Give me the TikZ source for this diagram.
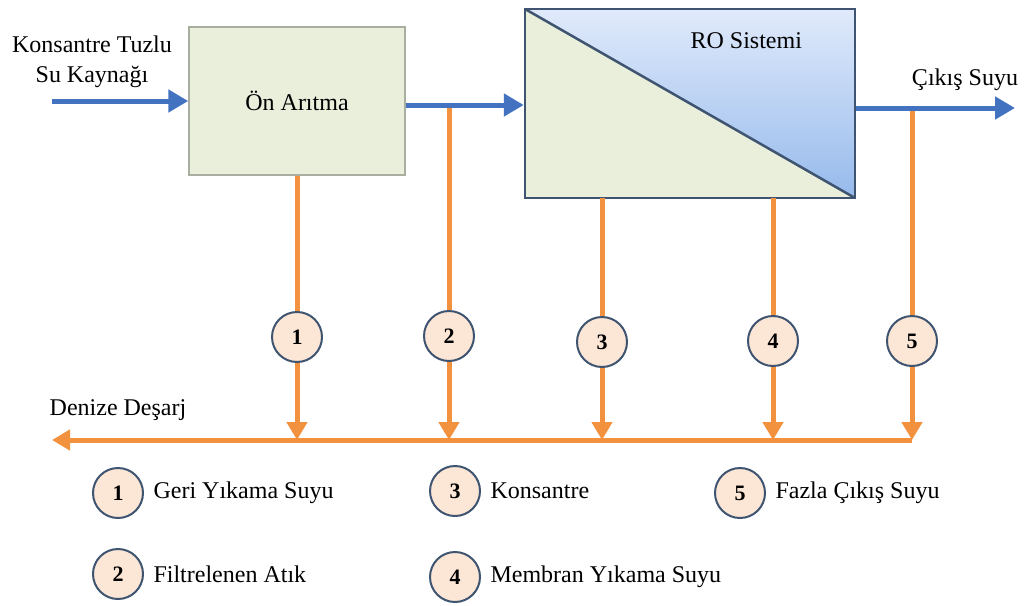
\documentclass[tikz,border=0pt]{standalone}
\usepackage{fontspec}
\setmainfont{Liberation Serif}
\usetikzlibrary{arrows.meta}
\usetikzlibrary{positioning}
\definecolor{mblue}{RGB}{66,114,192}
\definecolor{morange}{RGB}{242,146,62}
\definecolor{mgreen}{RGB}{234,239,220}
\definecolor{mframe}{RGB}{62,84,112}
\definecolor{mpeach}{RGB}{252,230,214}
\definecolor{mgray}{RGB}{168,174,160}
\definecolor{rotop}{RGB}{224,234,251}
\definecolor{robot}{RGB}{150,186,236}
\tikzset{flow/.style = {mblue, line width = 5, -{Triangle[width = 22, length = 20]}}}
\tikzset{drain/.style = {morange, line width = 5}}
\tikzset{drainarrow/.style = {drain, -{Triangle[width = 20, length = 18]}}}
\tikzset{num/.style = {circle, draw = mframe, line width = 2, fill = mpeach, minimum size = 50, inner sep = 0, font = \bfseries\fontsize{22}{22}\selectfont}}
\tikzset{prebox/.style = {draw = mgray, line width = 1.5, fill = mgreen, minimum width = 216, minimum height = 148}}
\tikzset{robox/.style = {draw = mframe, line width = 2.5, fill = mgreen, minimum width = 330, minimum height = 189,
  path picture = {
    \shade[top color = rotop, bottom color = robot] (path picture bounding box.north west) -- (path picture bounding box.north east) -- (path picture bounding box.south east) -- cycle;
    \draw[mframe, line width = 2.5] (path picture bounding box.north west) -- (path picture bounding box.south east);
  }}}

\begin{document}
\begin{tikzpicture}[x = 1pt, y = -1pt, font = \fontsize{24}{30}\selectfont]
  \useasboundingbox (0, 0) rectangle (1027, 605);

  % boxes
  \node [prebox] (pre) at (297, 101) {Ön Arıtma};
  \node [robox, label = {[anchor = center, xshift = -110, yshift = -33]north east:RO Sistemi}] (ro) at (690, 103.5) {};
  \node [align = center] (src) at (92, 62) {Konsantre Tuzlu\\Su Kaynağı};
  \node (outtxt) at (965, 80) {Çıkış Suyu};
  \node (sink) at (118, 410) {Denize Deşarj};

  \coordinate (in) at (52, 101);
  \coordinate (j2) at (449, 105);
  \coordinate (j5) at (912, 108);
  \coordinate (out) at (1015, 108);
  \coordinate (r3) at (602, 198);
  \coordinate (r4) at (773, 198);
  \coordinate (sea) at (52, 440);

  % numbered drains
  \node [num] (c1) at (297, 337) {1};
  \node [num] (c2) at (449, 336) {2};
  \node [num] (c3) at (602, 342) {3};
  \node [num] (c4) at (773, 341) {4};
  \node [num] (c5) at (912, 341) {5};
  \foreach \i/\src in {1/pre.south, 2/j2, 3/r3, 4/r4, 5/j5} {
    \draw [drain] (\src) -- (c\i);
    \draw [drainarrow] (c\i) -- (c\i |- sea);
  }
  \draw [drainarrow] (c5 |- sea) -- (sea);

  % main flow
  \draw [flow] (in) -- (pre.west |- in);
  \draw [flow] (pre.east |- j2) -- (ro.west |- j2);
  \draw [flow] (ro.east |- j5) -- (out);

  % legend
  \foreach \n/\x/\y/\txt in {1/118/493/Geri Yıkama Suyu, 2/118/574/Filtrelenen Atık, 3/455/491/Konsantre, 4/455/577/Membran Yıkama Suyu, 5/740/493/Fazla Çıkış Suyu} {
    \node [num] (l\n) at (\x, \y) {\n};
    \node [right = 6pt of l\n] (t\n) {\txt};
  }
\end{tikzpicture}
\end{document}
